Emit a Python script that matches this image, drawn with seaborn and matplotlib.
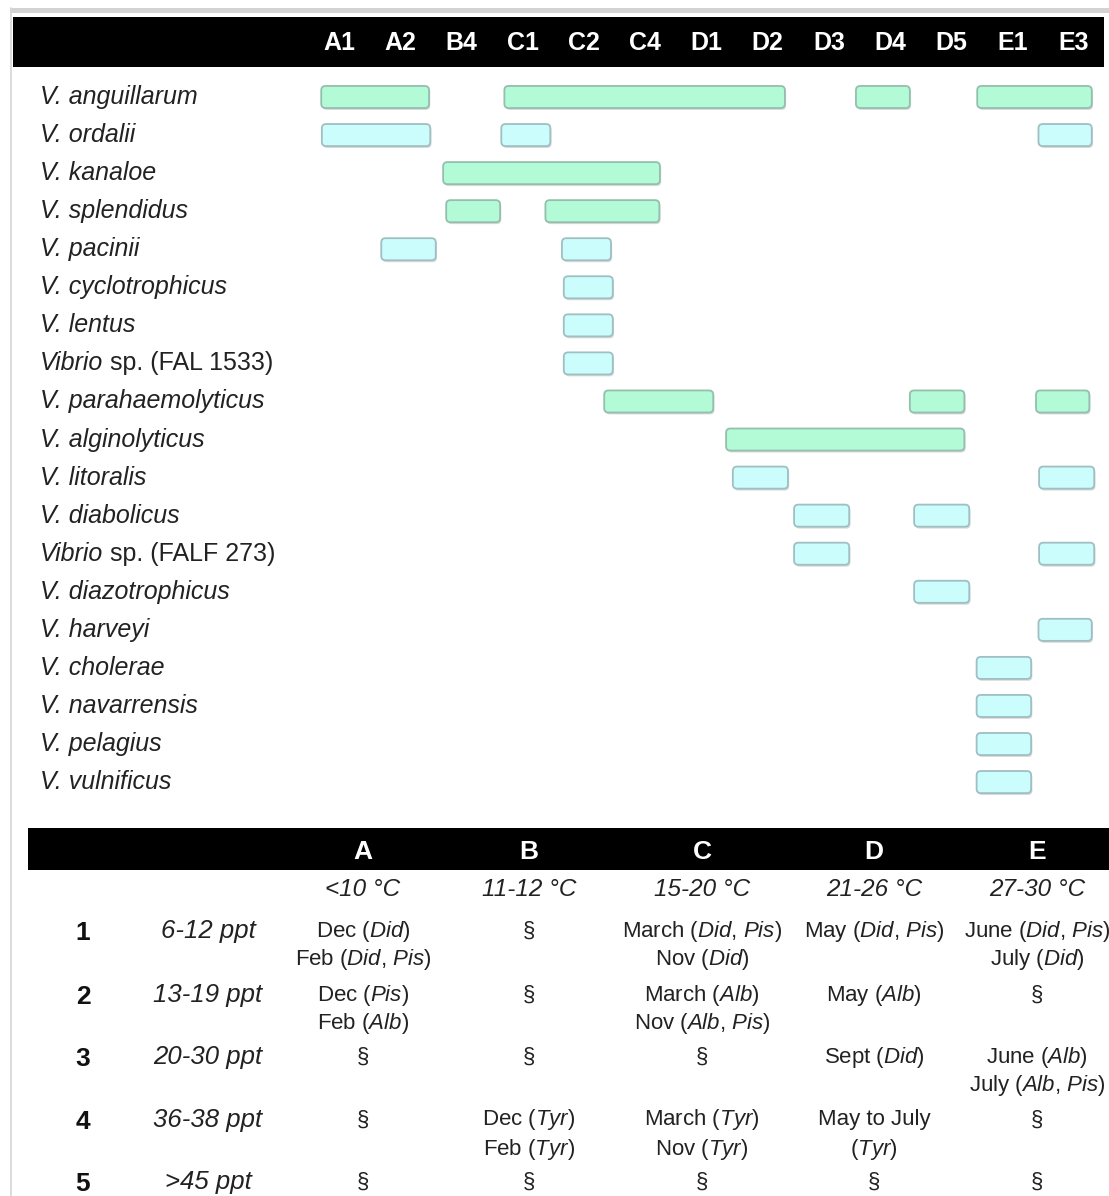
import re
import matplotlib
matplotlib.use('Agg')
import matplotlib.pyplot as plt
from matplotlib import font_manager
from matplotlib.patches import FancyBboxPatch, Rectangle
from matplotlib.transforms import blended_transform_factory
import seaborn as sns

sns.set_theme(style='white')


def pick_font(name, fallback='Liberation Sans'):
    try:
        font_manager.findfont(name, fallback_to_default=False)
        return name
    except ValueError:
        return fallback


SANS = 'Liberation Sans'
NARROW = pick_font('Liberation Sans Narrow')
plt.rcParams['font.family'] = [SANS, 'DejaVu Sans']
plt.rcParams['mathtext.fontset'] = 'custom'
plt.rcParams['mathtext.rm'] = NARROW
plt.rcParams['mathtext.it'] = NARROW + ':italic'

# ---- data: species occurrence per sampling site ----
columns = ['A1', 'A2', 'B4', 'C1', 'C2', 'C4', 'D1', 'D2', 'D3', 'D4', 'D5', 'E1', 'E3']

species = ['V. anguillarum', 'V. ordalii', 'V. kanaloe', 'V. splendidus', 'V. pacinii',
           'V. cyclotrophicus', 'V. lentus', 'Vibrio sp. (FAL 1533)', 'V. parahaemolyticus',
           'V. alginolyticus', 'V. litoralis', 'V. diabolicus', 'Vibrio sp. (FALF 273)',
           'V. diazotrophicus', 'V. harveyi', 'V. cholerae', 'V. navarrensis', 'V. pelagius',
           'V. vulnificus']

# (start, end) in column units
spans = [
    [(-0.29, 1.47), (2.70, 7.28), (8.44, 9.32), (10.42, 12.29)],
    [(-0.28, 1.49), (2.65, 3.45), (11.42, 12.29)],
    [(1.70, 5.24)],
    [(1.75, 2.63), (3.37, 5.23)],
    [(0.69, 1.58), (3.64, 4.44)],
    [(3.67, 4.47)],
    [(3.67, 4.47)],
    [(3.67, 4.47)],
    [(4.33, 6.11), (9.32, 10.21), (11.38, 12.25)],
    [(6.32, 10.21)],
    [(6.43, 7.33), (11.43, 12.33)],
    [(7.43, 8.33), (9.39, 10.29)],
    [(7.43, 8.33), (11.43, 12.33)],
    [(9.39, 10.29)],
    [(11.42, 12.29)],
    [(10.41, 11.30)],
    [(10.41, 11.30)],
    [(10.41, 11.30)],
    [(10.41, 11.30)],
]

group = ['green', 'cyan', 'green', 'green', 'cyan', 'cyan', 'cyan', 'cyan', 'green',
         'green', 'cyan', 'cyan', 'cyan', 'cyan', 'cyan', 'cyan', 'cyan', 'cyan', 'cyan']

# ---- data: site table ----
zones = ['A', 'B', 'C', 'D', 'E']
temps = ['<10 °C', '11-12 °C', '15-20 °C', '21-26 °C', '27-30 °C']
row_ids = ['1', '2', '3', '4', '5']
salinity = ['6-12 ppt', '13-19 ppt', '20-30 ppt', '36-38 ppt', '>45 ppt']
cells = [
    ['Dec (Did)\nFeb (Did, Pis)', '§', 'March (Did, Pis)\nNov (Did)', 'May (Did, Pis)', 'June (Did, Pis)\nJuly (Did)'],
    ['Dec (Pis)\nFeb (Alb)', '§', 'March (Alb)\nNov (Alb, Pis)', 'May (Alb)', '§'],
    ['§', '§', '§', 'Sept (Did)', 'June (Alb)\nJuly (Alb, Pis)'],
    ['§', 'Dec (Tyr)\nFeb (Tyr)', 'March (Tyr)\nNov (Tyr)', 'May to July\n(Tyr)', '§'],
    ['§', '§', '§', '§', '§'],
]

fill = {'green': '#b3fbd6', 'cyan': '#ccfdfd'}
edge = {'green': '#94bfae', 'cyan': '#9fbfc2'}

W, H = 1109, 1196
fig = plt.figure(figsize=(W / 100, H / 100), dpi=100)

# pixel canvas for frames and the table
bg = fig.add_axes([0, 0, 1, 1], zorder=1)
bg.set_xlim(0, W)
bg.set_ylim(H, 0)
bg.axis('off')

bg.add_patch(Rectangle((10, 8), W - 10, 5, color='#d3d3d3', lw=0))
bg.plot([11, 11], [8, H], color='#d6d6d6', lw=1.2)
bg.add_patch(Rectangle((13, 17), 1091, 50, color='black', lw=0))
bg.add_patch(Rectangle((28, 828), W - 28, 42, color='black', lw=0))

# gantt axes: column index on x, species row on y
col0, col_w = 339, 61.25
row0, row_h = 97, 38.06
ax = fig.add_axes([0, 0, 1, 1], zorder=2)
ax.patch.set_alpha(0)
ax.set_xlim(-col0 / col_w, (W - col0) / col_w)
ax.set_ylim((H - row0) / row_h, -row0 / row_h)
ax.axis('off')

bar_h = 0.58
aspect = col_w / row_h
for i, (name, segs) in enumerate(zip(species, spans)):
    g = group[i]
    for s, e in segs:
        shadow = FancyBboxPatch((s + 0.02, i - bar_h / 2 + 0.05), e - s, bar_h,
                                boxstyle='round,pad=0,rounding_size=0.07',
                                mutation_aspect=aspect, fc='#d9d9d9', ec='none', zorder=2)
        ax.add_patch(shadow)
        box = FancyBboxPatch((s, i - bar_h / 2), e - s, bar_h,
                             boxstyle='round,pad=0,rounding_size=0.07',
                             mutation_aspect=aspect, fc=fill[g], ec=edge[g], lw=1.3, zorder=3)
        ax.add_patch(box)

# column labels in the black header
top = blended_transform_factory(ax.transData, bg.transData)
for j, c in enumerate(columns):
    ax.text(j, 43, c, transform=top, ha='center', va='center', color='white',
            fontsize=18, fontweight='bold', family=NARROW)

# species names
left = blended_transform_factory(bg.transData, ax.transData)
for i, name in enumerate(species):
    if name.startswith('Vibrio'):
        t = ax.text(40, i, 'Vibrio', transform=left, ha='left', va='center',
                    fontsize=18, style='italic', color='#222222')
        ax.annotate(name[len('Vibrio'):], xy=(1, 0), xycoords=t, ha='left', va='bottom',
                    fontsize=18, color='#222222')
    else:
        ax.text(40, i, name, transform=left, ha='left', va='center',
                fontsize=18, style='italic', color='#222222')

# ---- table ----
zone_x = [363, 529, 702, 874, 1037]
row_y = [931, 995, 1057, 1120, 1182]
line_gap = 29


def italic_sites(s):
    return re.sub(r'(Did|Pis|Alb|Tyr)', r'$\\mathit{\1}$', s)


for x, z, tc in zip(zone_x, zones, temps):
    bg.text(x, 852, z, ha='center', va='center', color='white', fontsize=19,
            fontweight='bold', family=NARROW)
    bg.text(x, 890, tc, ha='center', va='center', fontsize=17.5, style='italic',
            family=NARROW, color='#222222')

for r, (y, rid, sal) in enumerate(zip(row_y, row_ids, salinity)):
    bg.text(83, y + 2, rid, ha='center', va='center', fontsize=19, fontweight='bold',
            family=NARROW, color='#111111')
    bg.text(208, y, sal, ha='center', va='center', fontsize=18.5, style='italic',
            family=NARROW, color='#222222')
    for x, cell in zip(zone_x, cells[r]):
        for k, line in enumerate(cell.split('\n')):
            bg.text(x, y + k * line_gap, italic_sites(line), ha='center', va='center',
                    fontsize=16, family=NARROW, color='#222222')

fig.savefig('out.png', dpi=100)
